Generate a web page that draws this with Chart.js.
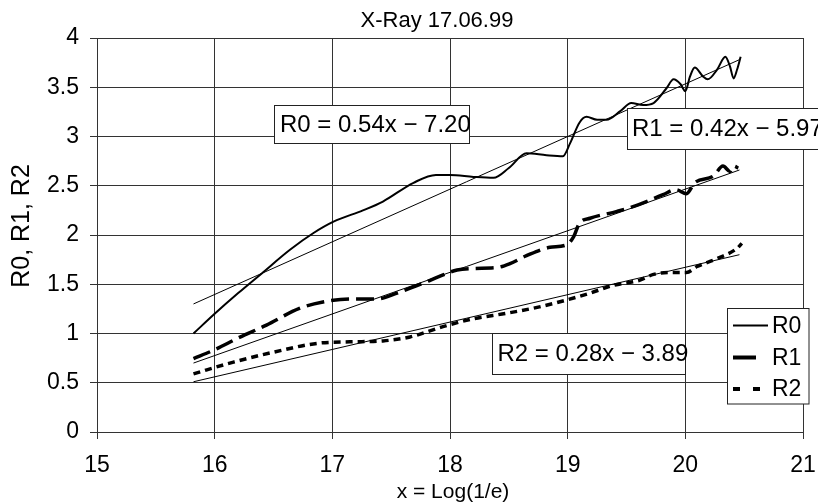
<!DOCTYPE html>
<html><head><meta charset="utf-8">
<script src="https://cdn.jsdelivr.net/npm/chart.js@4"></script>
<style>html,body{margin:0;padding:0;background:#fff}#wrap{width:818px;height:504px}</style>
</head><body><div id="wrap"><canvas id="c" width="818" height="504"></canvas></div>
<script>
const chartTitle = 'X-Ray 17.06.99';
const xTitle = 'x = Log(1/e)';
const yTitle = 'R0, R1, R2';
const seriesNames = ['R0', 'R1', 'R2'];
const xRange = [15, 21];
const yRange = [0, 4];

const r0X = [15.82, 16.0, 16.2, 16.4, 16.64, 16.84, 17.01, 17.26, 17.43, 17.69, 17.88, 18.0, 18.2, 18.37, 18.5, 18.65, 18.82, 18.96, 19.02, 19.10, 19.16, 19.25, 19.33, 19.45, 19.54, 19.64, 19.73, 19.84, 19.90, 19.96, 20.00, 20.04, 20.08, 20.15, 20.19, 20.27, 20.34, 20.38, 20.41, 20.44, 20.47];
const r0Y = [1.00, 1.20, 1.41, 1.61, 1.85, 2.02, 2.135, 2.25, 2.34, 2.53, 2.61, 2.61, 2.59, 2.58, 2.68, 2.83, 2.81, 2.80, 2.93, 3.14, 3.20, 3.17, 3.17, 3.26, 3.34, 3.32, 3.34, 3.49, 3.58, 3.53, 3.46, 3.61, 3.70, 3.61, 3.58, 3.68, 3.81, 3.71, 3.59, 3.68, 3.81];

const r1X = [15.82, 15.99, 16.21, 16.44, 16.72, 16.92, 17.15, 17.38, 17.55, 17.77, 17.91, 18.06, 18.20, 18.40, 18.51, 18.65, 18.85, 18.99, 19.05, 19.10, 19.19, 19.42, 19.61, 19.81, 19.92, 20.01, 20.08, 20.24, 20.32, 20.38, 20.41, 20.45];
const r1Y = [0.745, 0.83, 0.96, 1.085, 1.255, 1.32, 1.35, 1.35, 1.41, 1.51, 1.58, 1.645, 1.66, 1.67, 1.71, 1.79, 1.875, 1.90, 1.98, 2.12, 2.17, 2.24, 2.31, 2.41, 2.46, 2.42, 2.53, 2.60, 2.70, 2.645, 2.70, 2.68];

const r2X = [15.82, 16.16, 16.50, 16.87, 17.15, 17.43, 17.66, 17.94, 18.20, 18.48, 18.76, 18.99, 19.19, 19.39, 19.61, 19.73, 19.90, 20.01, 20.10, 20.27, 20.44, 20.48];
const r2Y = [0.59, 0.71, 0.81, 0.90, 0.915, 0.925, 0.965, 1.07, 1.15, 1.205, 1.27, 1.34, 1.41, 1.49, 1.54, 1.60, 1.62, 1.62, 1.68, 1.76, 1.865, 1.915];

const trendX = [15.82, 20.46];
const trendR0 = [1.30, 3.78];
const trendR1 = [0.70, 2.66];
const trendR2 = [0.51, 1.80];

const equations = ['R0 = 0.54x \u2212 7.20', 'R1 = 0.42x \u2212 5.97', 'R2 = 0.28x \u2212 3.89'];

const FONT = '"Liberation Sans", Arial, Helvetica, sans-serif';
const pts = (xs, ys) => xs.map((x, i) => ({x: x, y: ys[i]}));

const overlay = {
  id: 'overlay',
  afterDraw(chart) {
    const ctx = chart.ctx;
    ctx.save();
    ctx.fillStyle = '#000';
    ctx.textBaseline = 'middle';
    ctx.textAlign = 'center';
    ctx.font = '22px ' + FONT;
    ctx.fillText(chartTitle, 437, 21);
    ctx.font = '21px ' + FONT;
    ctx.fillText(xTitle, 453, 492);
    ctx.font = '25px ' + FONT;
    ctx.save();
    ctx.translate(22, 226);
    ctx.rotate(-Math.PI / 2);
    ctx.fillText(yTitle, 0, 0);
    ctx.restore();

    // equation boxes
    const boxes = [
      {x: 274.5, y: 105.5, w: 195, h: 38, tx: 280, ty: 125},
      {x: 627.5, y: 108.5, w: 200, h: 41, tx: 632, ty: 129.5},
      {x: 492.5, y: 333.5, w: 193, h: 41, tx: 497.5, ty: 354.5}
    ];
    ctx.font = '24px ' + FONT;
    ctx.textAlign = 'left';
    ctx.lineWidth = 1;
    ctx.strokeStyle = '#222';
    boxes.forEach((b, i) => {
      ctx.fillStyle = '#fff';
      ctx.fillRect(b.x, b.y, b.w, b.h);
      ctx.strokeRect(b.x, b.y, b.w, b.h);
      ctx.fillStyle = '#000';
      ctx.fillText(equations[i], b.tx, b.ty);
    });

    // legend
    ctx.fillStyle = '#fff';
    ctx.fillRect(727.5, 308.5, 81.5, 95.5);
    ctx.strokeRect(727.5, 308.5, 81.5, 95.5);
    ctx.strokeStyle = '#000';
    const ly = [325.5, 357.5, 389];
    const styles = [
      {w: 2, dash: [], x2: 768},
      {w: 4, dash: [], x2: 756},
      {w: 4, dash: [7, 13], x2: 760}
    ];
    styles.forEach((s, i) => {
      ctx.beginPath();
      ctx.setLineDash(s.dash);
      ctx.lineWidth = s.w;
      ctx.moveTo(733, ly[i]);
      ctx.lineTo(s.x2, ly[i]);
      ctx.stroke();
    });
    ctx.setLineDash([]);
    ctx.fillStyle = '#000';
    ctx.font = '23px ' + FONT;
    seriesNames.forEach((n, i) => ctx.fillText(n, 772, ly[i] + 1));
    ctx.restore();
  }
};

const gridColor = '#333';
new Chart(document.getElementById('c'), {
  type: 'line',
  data: {
    datasets: [
      {label: seriesNames[0], data: pts(r0X, r0Y), borderColor: '#000', borderWidth: 2, pointRadius: 0, cubicInterpolationMode: 'monotone', fill: false},
      {label: seriesNames[1], data: pts(r1X, r1Y), borderColor: '#000', borderWidth: 3.5, borderDash: [18, 7], pointRadius: 0, cubicInterpolationMode: 'monotone', fill: false},
      {label: seriesNames[2], data: pts(r2X, r2Y), borderColor: '#000', borderWidth: 3.5, borderDash: [7, 5], pointRadius: 0, cubicInterpolationMode: 'monotone', fill: false},
      {label: 'trend R0', data: pts(trendX, trendR0), borderColor: '#000', borderWidth: 1, pointRadius: 0, tension: 0},
      {label: 'trend R1', data: pts(trendX, trendR1), borderColor: '#000', borderWidth: 1, pointRadius: 0, tension: 0},
      {label: 'trend R2', data: pts(trendX, trendR2), borderColor: '#000', borderWidth: 1, pointRadius: 0, tension: 0}
    ]
  },
  options: {
    responsive: false,
    animation: false,
    devicePixelRatio: 1,
    layout: {padding: {top: 38, right: 15, left: 0, bottom: 0}},
    plugins: {legend: {display: false}, title: {display: false}, tooltip: {enabled: false}},
    scales: {
      x: {
        type: 'linear', min: xRange[0], max: xRange[1],
        ticks: {stepSize: 1, color: '#000', font: {family: FONT, size: 23}, padding: 13, maxRotation: 0},
        grid: {color: gridColor, lineWidth: 1, tickLength: 7, tickColor: gridColor},
        border: {color: gridColor, width: 1},
        afterFit(s) { s.height = 72; s.paddingLeft = 0; s.paddingRight = 0; }
      },
      y: {
        type: 'linear', min: yRange[0], max: yRange[1],
        ticks: {stepSize: 0.5, color: '#000', font: {family: FONT, size: 23}, padding: 11,
          callback: (v) => String(Math.round(v * 10) / 10)},
        grid: {color: gridColor, lineWidth: 1, tickLength: 7, tickColor: gridColor},
        border: {color: gridColor, width: 1},
        afterFit(s) { s.width = 97; }
      }
    }
  },
  plugins: [overlay]
});
</script>
</body></html>
